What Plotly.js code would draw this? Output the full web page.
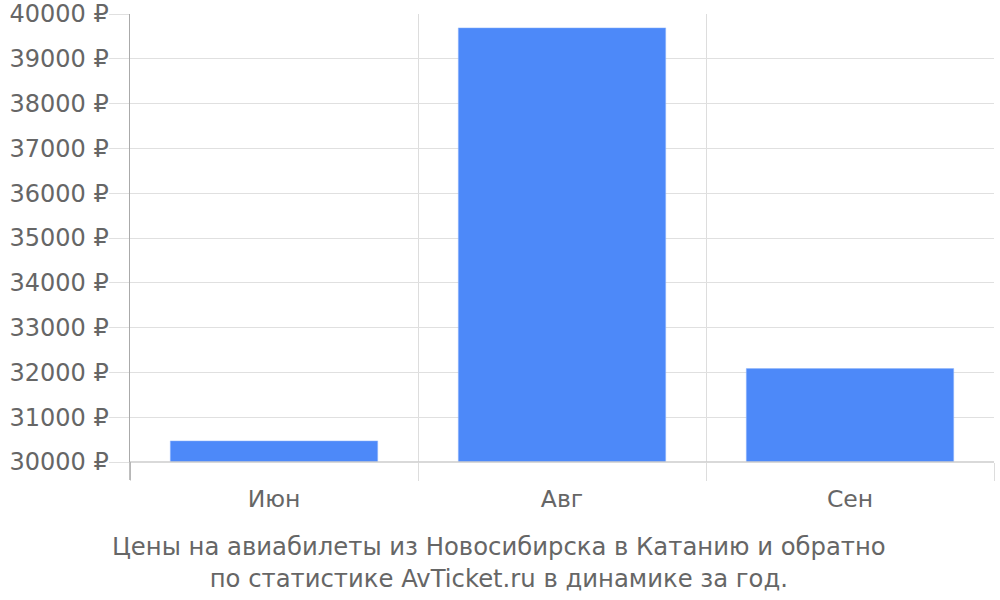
<!DOCTYPE html>
<html>
<head>
<meta charset="utf-8">
<script src="https://cdn.plot.ly/plotly-3.0.1.min.js"></script>
<style>
  body { margin: 0; background: #fff; }
  #plot { width: 1000px; height: 600px; }
</style>
</head>
<body>
<div id="plot"></div>
<script>
// average ticket price per month, roubles
let months = ['Июн', 'Авг', 'Сен'];
let prices = [30470, 39690, 32085];
let yTicks = [30000, 31000, 32000, 33000, 34000, 35000, 36000, 37000, 38000, 39000, 40000];
let caption = 'Цены на авиабилеты из Новосибирска в Катанию и обратно<br>по статистике AvTicket.ru в динамике за год.';

let font = 'DejaVu Sans, sans-serif';

let trace = {
    x: months,
    y: prices,
    type: 'bar',
    marker: {color: '#4d89f9', line: {color: '#8fb4fb', width: 0.5}},
    hoverinfo: 'none'
};

let layout = {
    width: 1000,
    height: 600,
    margin: {l: 130, r: 6, t: 14, b: 138},
    paper_bgcolor: '#ffffff',
    plot_bgcolor: '#ffffff',
    bargap: 0.28,
    showlegend: false,
    font: {family: font, size: 23.5, color: '#666666'},
    xaxis: {
        type: 'category',
        tickson: 'boundaries',
        ticks: 'outside',
        ticklen: 18,
        tickcolor: '#dddddd',
        tickwidth: 1,
        ticklabelstandoff: 20,
        showgrid: true,
        gridcolor: '#dddddd',
        showline: false,
        zeroline: false,
        tickfont: {family: font, size: 23.5, color: '#666666'},
        fixedrange: true
    },
    yaxis: {
        range: [30000, 40000],
        tickvals: yTicks,
        ticktext: yTicks.map(v => v + ' ₽'),
        ticks: 'outside',
        ticklen: 20,
        tickcolor: '#e0e0e0',
        ticklabelstandoff: -5,
        showgrid: true,
        gridcolor: '#e0e0e0',
        showline: true,
        linecolor: '#aaaaaa',
        linewidth: 1.5,
        zeroline: false,
        tickfont: {family: font, size: 24, color: '#666666'},
        fixedrange: true
    },
    shapes: [
        // darker base line at the bottom of the plot and axis stub under it
        {type: 'line', xref: 'paper', yref: 'paper', x0: 0, x1: 1, y0: 0, y1: 0,
         line: {color: '#cccccc', width: 1.5}},
        {type: 'line', xref: 'paper', yref: 'paper', x0: 0, x1: 0, y0: 0, y1: -0.04,
         line: {color: '#aaaaaa', width: 1.5}}
    ],
    annotations: [{
        text: caption,
        xref: 'paper', yref: 'paper',
        x: 0.427, y: -0.152,
        xanchor: 'center', yanchor: 'top',
        showarrow: false,
        align: 'center',
        font: {family: font, size: 24.3, color: '#666666'}
    }]
};

Plotly.newPlot('plot', [trace], layout, {displayModeBar: false, staticPlot: true});
</script>
</body>
</html>
